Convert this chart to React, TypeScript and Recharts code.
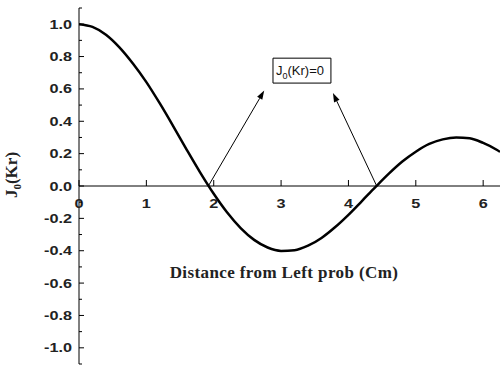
import React from 'react';
import { LineChart, Line, XAxis, YAxis, ReferenceLine, ReferenceArea } from 'recharts';

// distance (cm) and J0(Kr)
const distances = [0, 0.2, 0.4, 0.6, 0.8, 1.0, 1.2, 1.4, 1.6, 1.8, 2.0, 2.2, 2.4, 2.6, 2.8, 3.0, 3.2, 3.4, 3.6, 3.8, 4.0, 4.2, 4.4, 4.6, 4.8, 5.0, 5.2, 5.4, 5.6, 5.8, 6.0, 6.2, 6.25];
const j0Values = [1, 0.983, 0.935, 0.857, 0.757, 0.642, 0.51, 0.369, 0.224, 0.083, -0.048, -0.164, -0.26, -0.333, -0.38, -0.401, -0.397, -0.369, -0.321, -0.255, -0.178, -0.093, -0.007, 0.076, 0.151, 0.212, 0.26, 0.288, 0.3, 0.295, 0.266, 0.224, 0.211];

const xTicks = [0, 1, 2, 3, 4, 5, 6];
const yTicks = [-1.1, -1.0, -0.9, -0.8, -0.7, -0.6, -0.5, -0.4, -0.3, -0.2, -0.1, 0, 0.1, 0.2, 0.3, 0.4, 0.5, 0.6, 0.7, 0.8, 0.9, 1.0, 1.1];

// the two zeros the annotation points at, and where the arrows end
const zeros = [1.92, 4.42];
const arrowEnds = [{ x: 2.75, y: 0.59 }, { x: 3.77, y: 0.575 }];

const data = distances.map((x, i) => ({ x, j0: j0Values[i] }));

const W = 500;
const H = 367;
const MARGIN = { top: 8, right: 0, bottom: 0, left: 0 };
const Y_AXIS_W = 79;
const X_AXIS_H = 3;
const Y_MIN = -1.1;
const Y_MAX = 1.1;
const PLOT_H = H - MARGIN.top - MARGIN.bottom - X_AXIS_H;
const ZERO_OFFSET = (PLOT_H * (0 - Y_MIN)) / (Y_MAX - Y_MIN);

// the original image is a bit stretched sideways
const STRETCH = 1.3;

const tickFont = { fontFamily: '"Liberation Sans", Arial, sans-serif', fontWeight: 700, fontSize: 12.5, fill: '#222' };
const titleFont = { fontFamily: '"Liberation Serif", "Times New Roman", serif', fontWeight: 700, fontSize: 17, fill: '#222' };

const XTick = ({ x, y, payload }: any) => {
    const zy = y - ZERO_OFFSET;
    return (
        <g>
            <line x1={x} x2={x} y1={zy} y2={zy - 6} stroke="#000" />
            <text transform={`translate(${x} ${zy + 22}) scale(${STRETCH} 1)`} textAnchor="middle" {...tickFont}>
                {payload.value}
            </text>
        </g>
    );
};

const YTick = ({ x, y, payload }: any) => {
    const major = Math.round(payload.value * 10) % 2 === 0;
    const show = major && Math.abs(payload.value) <= 1.0001;
    return (
        <g>
            <line x1={x} x2={x + (major ? 5 : 3)} y1={y} y2={y} stroke="#000" />
            {show && (
                <text transform={`translate(${x - 7} ${y + 4.5}) scale(${STRETCH} 1)`} textAnchor="end" {...tickFont}>
                    {payload.value.toFixed(1)}
                </text>
            )}
        </g>
    );
};

const Arrow = (props: any) => {
    const { x1, y1, x2, y2 } = props;
    const ang = Math.atan2(y2 - y1, x2 - x1);
    const len = 9;
    const half = 3;
    const bx = x2 - len * Math.cos(ang);
    const by = y2 - len * Math.sin(ang);
    const px = -Math.sin(ang) * half;
    const py = Math.cos(ang) * half;
    return (
        <g>
            <line x1={x1} y1={y1} x2={bx} y2={by} stroke="#000" strokeWidth={1} />
            <polygon points={`${x2},${y2} ${bx + px},${by + py} ${bx - px},${by - py}`} fill="#000" />
        </g>
    );
};

const BoxLabel = ({ viewBox }: any) => {
    const { x, y, height } = viewBox;
    return (
        <text x={x + 3} y={y + height / 2 + 4} fontFamily='"Liberation Sans", Arial, sans-serif' fontSize={13} fill="#111">
            J<tspan fontSize={9} dy={4}>0</tspan><tspan dy={-4}>(Kr)=0</tspan>
        </text>
    );
};

const YTitle = ({ viewBox }: any) => {
    const cx = viewBox.x + viewBox.width - 62;
    const cy = viewBox.y + viewBox.height / 2 - 11;
    return (
        <text x={cx} y={cy} transform={`rotate(-90 ${cx} ${cy})`} textAnchor="middle" {...titleFont}>
            J<tspan fontSize={11} dy={4}>0</tspan><tspan dy={-4}>(Kr)</tspan>
        </text>
    );
};

const XTitle = ({ viewBox }: any) => (
    <text x={viewBox.x + 205} y={viewBox.y - 86} textAnchor="middle" letterSpacing={0.4} {...titleFont}>
        Distance from Left prob (Cm)
    </text>
);

export default function App() {
    return (
        <div style={{ position: 'absolute', left: 0, top: 0, width: W, height: H, background: '#fff' }}>
            <LineChart width={W} height={H} data={data} margin={MARGIN}>
                <XAxis
                    type="number"
                    dataKey="x"
                    domain={[0, 6.25]}
                    ticks={xTicks}
                    height={X_AXIS_H}
                    tickSize={0}
                    tickMargin={0}
                    axisLine={false}
                    tickLine={false}
                    tick={<XTick />}
                    interval={0}
                    allowDataOverflow
                    label={XTitle}
                />
                <YAxis
                    type="number"
                    domain={[Y_MIN, Y_MAX]}
                    ticks={yTicks}
                    width={Y_AXIS_W}
                    tickSize={0}
                    tickMargin={0}
                    axisLine={{ stroke: '#000' }}
                    tickLine={false}
                    tick={<YTick />}
                    interval={0}
                    allowDataOverflow
                    label={YTitle}
                />
                <ReferenceLine y={0} stroke="#000" strokeWidth={1} />
                <ReferenceArea
                    x1={2.88}
                    x2={3.74}
                    y1={0.636}
                    y2={0.79}
                    fill="#fff"
                    fillOpacity={1}
                    stroke="#000"
                    strokeWidth={1}
                    ifOverflow="visible"
                    label={BoxLabel}
                />
                {zeros.map((z, i) => (
                    <ReferenceLine
                        key={i}
                        segment={[{ x: z, y: 0 }, arrowEnds[i]]}
                        ifOverflow="visible"
                        shape={Arrow}
                    />
                ))}
                <Line
                    type="monotone"
                    dataKey="j0"
                    stroke="#000"
                    strokeWidth={2.5}
                    dot={false}
                    activeDot={false}
                    isAnimationActive={false}
                />
            </LineChart>
        </div>
    );
}
